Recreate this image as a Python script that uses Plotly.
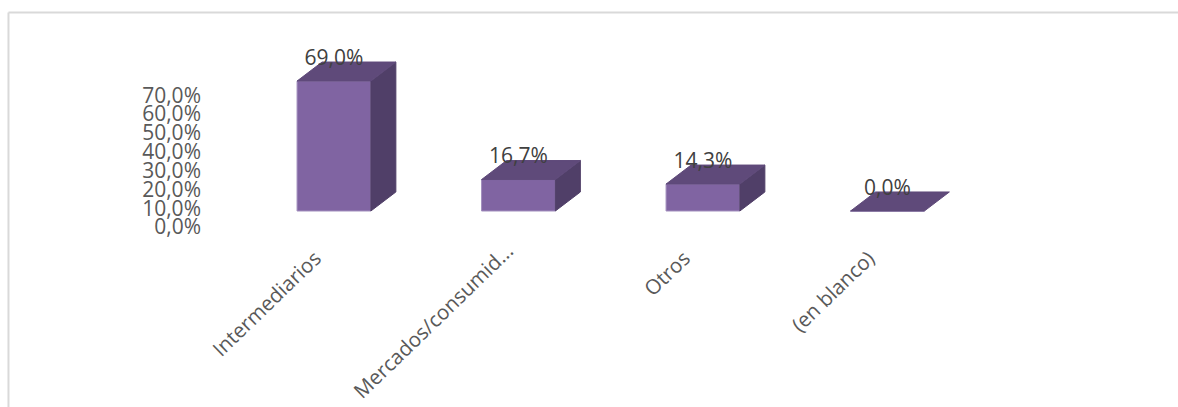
# Bar chart with a fake 3D look: front faces are bars, top and side faces are filled polygons
import plotly.graph_objects as go

categories = ["Intermediarios", "Mercados/consumid...", "Otros", "(en blanco)"]
values = [69.0, 16.7, 14.3, 0.0]
value_labels = ["69,0%", "16,7%", "14,3%", "0,0%"]
tick_values = [0, 10, 20, 30, 40, 50, 60, 70]
tick_labels = ["0,0%", "10,0%", "20,0%", "30,0%", "40,0%", "50,0%", "60,0%", "70,0%"]

front_color = "#8064A2"
top_color = "#5F4A7A"
side_color = "#503F68"
edge_color = "#A28FBE"
axis_text = "#595959"
label_text = "#404040"
border_color = "#D9D9D9"
font_name = "Open Sans"

bar_width = 0.4
depth_x = 0.1355
depth_y = 10.1
# the axis labels sit lower than the bar baseline in the original
tick_shift = -8.5
label_gap = 11.5


def main():
    positions = list(range(len(categories)))

    top_x, top_y, side_x, side_y = [], [], [], []
    for pos, value in zip(positions, values):
        left = pos - bar_width / 2
        right = pos + bar_width / 2
        top_x += [left, right, right + depth_x, left + depth_x, left, None]
        top_y += [value, value, value + depth_y, value + depth_y, value, None]
        if value > 0:
            side_x += [right, right + depth_x, right + depth_x, right, right, None]
            side_y += [0, depth_y, value + depth_y, value, 0, None]

    # the truncated label sits further along its slant than the others in the original
    category_ticks = [c if c.endswith("...") else c + "\u00a0\u00a0" for c in categories]

    fig = go.Figure()

    fig.add_trace(go.Scatter(x=side_x, y=side_y, mode="lines", fill="toself", fillcolor=side_color,
                             line=dict(color=side_color, width=1), showlegend=False, hoverinfo="skip"))
    fig.add_trace(go.Scatter(x=top_x, y=top_y, mode="lines", fill="toself", fillcolor=top_color,
                             line=dict(color=top_color, width=1), showlegend=False, hoverinfo="skip"))
    fig.add_trace(go.Bar(x=positions, y=values, width=bar_width,
                         marker=dict(color=front_color, line=dict(color=edge_color, width=1)),
                         showlegend=False, hoverinfo="x+y"))
    fig.add_trace(go.Scatter(x=positions, y=[v + label_gap for v in values], mode="text",
                             text=value_labels, textposition="middle center",
                             textfont=dict(family=font_name, size=21, color=label_text),
                             showlegend=False, hoverinfo="skip"))

    fig.update_layout(
        width=1178,
        height=407,
        margin=dict(l=205, r=178, t=40, b=167),
        paper_bgcolor="white",
        plot_bgcolor="white",
        font=dict(family=font_name, size=21, color=axis_text),
        shapes=[
            dict(type="line", xref="paper", yref="paper", x0=-0.2472, x1=1.23, y0=1.1375, y1=1.1375,
                 line=dict(color=border_color, width=2)),
            dict(type="line", xref="paper", yref="paper", x0=-0.2472, x1=-0.2472, y0=1.1375, y1=-0.84,
                 line=dict(color=border_color, width=2)),
        ],
    )

    fig.update_xaxes(range=[-0.699, 3.61], tickvals=positions, ticktext=category_ticks, tickangle=-44,
                     tickfont=dict(size=20.5), ticklabelshift=-11, ticklabelstandoff=-6, automargin=False,
                     showgrid=False, zeroline=False, showline=False, ticks="")
    fig.update_yaxes(range=[-15.4, 90.8], tickvals=[t + tick_shift for t in tick_values], ticktext=tick_labels,
                     ticklabelstandoff=3, automargin=False,
                     showgrid=False, zeroline=False, showline=False, ticks="")

    # page body has a default margin that would push the chart off by 8px
    fig.write_html("out.html", config=dict(displayModeBar=False),
                   post_script="document.body.style.margin='0';")


if __name__ == "__main__":
    main()
